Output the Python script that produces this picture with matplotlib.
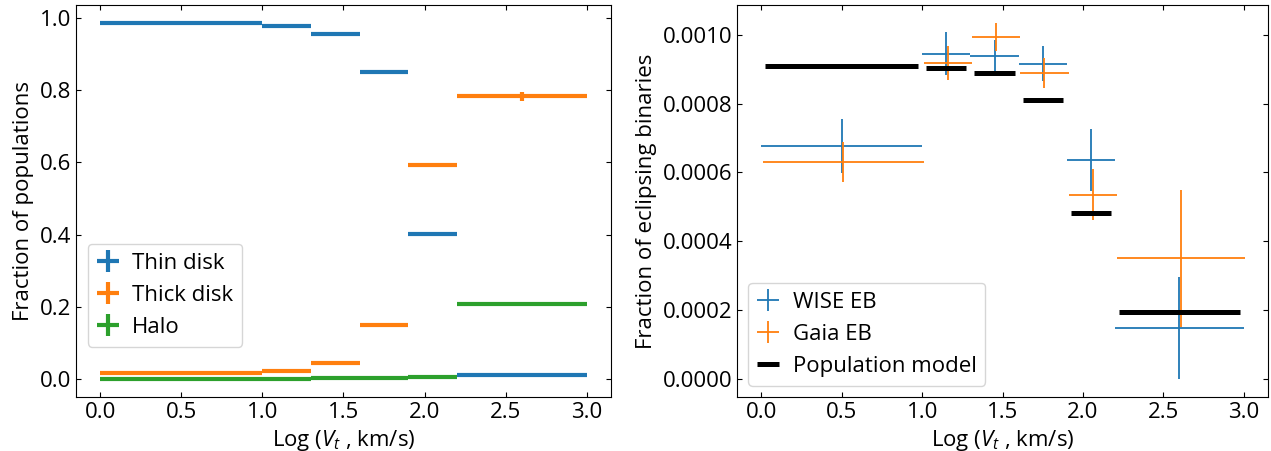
import matplotlib
matplotlib.use("Agg")
import matplotlib.pyplot as plt
import numpy as np

plt.rcParams['font.family'] = ['Open Sans', 'DejaVu Sans']
plt.rcParams['mathtext.fontset'] = 'custom'
plt.rcParams['mathtext.rm'] = 'Open Sans'
plt.rcParams['mathtext.it'] = 'Open Sans:italic'
plt.rcParams['font.size'] = 16
plt.rcParams['xtick.direction'] = 'in'
plt.rcParams['ytick.direction'] = 'in'
plt.rcParams['xtick.top'] = True
plt.rcParams['ytick.right'] = True

# log(Vt) bin edges
bin_lo = np.array([0.0, 1.0, 1.3, 1.6, 1.9, 2.2])
bin_hi = np.array([1.0, 1.3, 1.6, 1.9, 2.2, 3.0])
bin_mid = (bin_lo + bin_hi) / 2
bin_half = (bin_hi - bin_lo) / 2

# population fractions
thin_frac = [0.985, 0.978, 0.955, 0.850, 0.402, 0.012]
thin_err = [0.001, 0.001, 0.001, 0.001, 0.002, 0.003]
thick_frac = [0.015, 0.021, 0.043, 0.149, 0.594, 0.783]
thick_err = [0.001, 0.001, 0.001, 0.001, 0.002, 0.012]
halo_frac = [0.000, 0.000, 0.001, 0.002, 0.005, 0.207]
halo_err = [0.0, 0.0, 0.0, 0.0, 0.001, 0.004]

# eclipsing binary fractions
wise_frac = [0.000677, 0.000945, 0.000939, 0.000916, 0.000636, 0.000148]
wise_err = [0.000078, 0.000063, 0.000046, 0.000051, 0.000091, 0.000148]
gaia_frac = [0.000630, 0.000917, 0.000994, 0.000889, 0.000535, 0.000350]
gaia_err = [0.000058, 0.000050, 0.000040, 0.000043, 0.000074, 0.000200]
model_frac = [0.000909, 0.000904, 0.000888, 0.000811, 0.000482, 0.000194]

gaia_shift = 0.01
model_gap = 0.025

fig = plt.figure(figsize=(12.71, 4.51), dpi=100)
ax1 = fig.add_axes([0.0598, 0.120, 0.4209, 0.868])
ax2 = fig.add_axes([0.5800, 0.120, 0.4176, 0.868])

# left panel
ax1.errorbar(bin_mid, thin_frac, xerr=bin_half, yerr=thin_err, fmt='none',
             ecolor='C0', elinewidth=3, label='Thin disk')
ax1.errorbar(bin_mid, thick_frac, xerr=bin_half, yerr=thick_err, fmt='none',
             ecolor='C1', elinewidth=3, label='Thick disk')
ax1.errorbar(bin_mid, halo_frac, xerr=bin_half, yerr=halo_err, fmt='none',
             ecolor='C2', elinewidth=3, label='Halo')
ax1.set_xlim(-0.15, 3.15)
ax1.set_ylim(-0.05, 1.035)
ax1.set_xticks(np.arange(0, 3.01, 0.5))
ax1.set_yticks(np.arange(0, 1.01, 0.2))
ax1.set_xlabel('Log ($V_t$ , km/s)')
ax1.set_ylabel('Fraction of populations')
ax1.legend(loc='lower left', bbox_to_anchor=(0.022, 0.128), borderaxespad=0,
           handlelength=1.0, handletextpad=0.6)

# right panel
h_wise = ax2.errorbar(bin_mid, wise_frac, xerr=bin_half, yerr=wise_err,
                      fmt='none', ecolor='C0', elinewidth=1.3, label='WISE EB')
h_gaia = ax2.errorbar(bin_mid + gaia_shift, gaia_frac, xerr=bin_half,
                      yerr=gaia_err, fmt='none', ecolor='C1', elinewidth=1.3,
                      label='Gaia EB')
h_model = ax2.hlines(model_frac, bin_lo + model_gap, bin_hi - model_gap,
                     colors='k', linewidth=3.6, label='Population model')
ax2.set_xlim(-0.15, 3.15)
ax2.set_ylim(-0.000052, 0.001085)
ax2.set_xticks(np.arange(0, 3.01, 0.5))
ax2.set_yticks(np.arange(0, 0.00101, 0.0002))
ax2.set_xlabel('Log ($V_t$ , km/s)')
ax2.set_ylabel('Fraction of eclipsing binaries')
ax2.legend(handles=[h_wise, h_gaia, h_model], loc='lower left',
           handlelength=1.0, handletextpad=0.6)

fig.savefig('out.png', dpi=100)
